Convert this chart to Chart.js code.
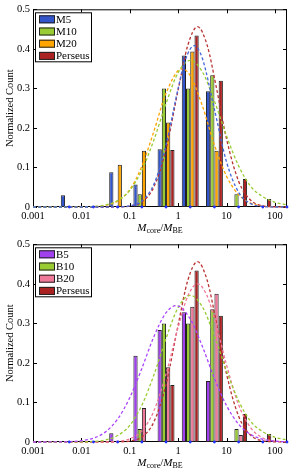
<!DOCTYPE html>
<html>
<head>
<meta charset="utf-8">
<script src="https://cdn.jsdelivr.net/npm/chart.js@4.4.0/dist/chart.umd.min.js"></script>
<style>
  body { margin: 0; background: #fff; }
  .panel { width: 294px; height: 235px; }
</style>
</head>
<body>
<div class="panel"><canvas id="topChart" width="294" height="235"></canvas></div>
<div class="panel"><canvas id="bottomChart" width="294" height="235"></canvas></div>
<script>
// bin centres in log10(Mcore/MBE)
var binCentres = [-2.25, -1.75, -1.25, -0.75, -0.25, 0.25, 0.75, 1.25, 1.75, 2.25];
var zeroMarks = [0, 0, 0, 0, 0, 0, 0, 0, 0, 0];

var xTicks = [-3, -2, -1, 0, 1, 2];
var xTickLabels = ['0.001', '0.01', '0.1', '1', '10', '100'];
var yTicks = [0, 0.1, 0.2, 0.3, 0.4, 0.5];

// normalized counts, top panel
var m5 = [0.03, 0, 0.088, 0.057, 0.146, 0.383, 0.293, 0, 0, 0];
var m10 = [0, 0, 0, 0.032, 0.30, 0.30, 0.333, 0.032, 0, 0];
var m20 = [0, 0, 0.107, 0.142, 0.214, 0.393, 0.142, 0, 0, 0];
var perseus = [0, 0, 0, 0, 0.144, 0.434, 0.319, 0.071, 0.02, 0];

// bottom panel
var b5 = [0, 0, 0.022, 0.218, 0.283, 0.328, 0.154, 0, 0, 0];
var b10 = [0, 0, 0, 0.033, 0.30, 0.30, 0.336, 0.033, 0, 0];
var b20 = [0, 0, 0, 0.086, 0.189, 0.342, 0.375, 0.018, 0, 0];

// fitted curves
var fitM5X = [-3, -1.5, -1.25, -1, -0.75, -0.5, -0.25, 0, 0.15, 0.33, 0.5, 0.75, 1.0, 1.25, 1.5, 1.75, 2.0, 2.25];
var fitM5 = [0, 0, 0.0003, 0.0027, 0.015, 0.058, 0.157, 0.300, 0.372, 0.408, 0.376, 0.247, 0.114, 0.037, 0.0084, 0.0013, 0, 0];

var fit10X = [-3, -2, -1.75, -1.5, -1.25, -1, -0.75, -0.5, -0.25, 0, 0.25, 0.5, 0.75, 1.0, 1.25, 1.5, 1.75, 2.0, 2.25];
var fit10 = [0, 0.0003, 0.0014, 0.0053, 0.0163, 0.042, 0.093, 0.170, 0.262, 0.340, 0.371, 0.342, 0.268, 0.180, 0.104, 0.052, 0.026, 0.012, 0.005];

var fitM20X = [-3, -2, -1.75, -1.5, -1.25, -1, -0.75, -0.5, -0.25, 0.08, 0.25, 0.5, 0.75, 1.0, 1.25, 1.5, 1.75, 2.0, 2.25];
var fitM20 = [0, 0.0002, 0.0009, 0.0041, 0.015, 0.044, 0.103, 0.192, 0.288, 0.350, 0.332, 0.256, 0.157, 0.078, 0.031, 0.0097, 0.0024, 0.0005, 0];

var fitPerX = [-3, -1.5, -1.25, -1, -0.75, -0.5, -0.25, 0, 0.2, 0.4, 0.6, 0.8, 1.0, 1.25, 1.5, 1.75, 2.0, 2.25];
var fitPer = [0, 0, 0.0003, 0.0023, 0.0127, 0.051, 0.146, 0.296, 0.409, 0.456, 0.409, 0.296, 0.172, 0.065, 0.017, 0.003, 0.0005, 0];

var fitB5X = [-3, -2.5, -2.25, -2, -1.75, -1.5, -1.25, -1, -0.75, -0.5, -0.25, -0.04, 0.25, 0.5, 0.75, 1.0, 1.25, 1.5, 1.75, 2.0, 2.25];
var fitB5 = [0, 0.0002, 0.0009, 0.0032, 0.0097, 0.0256, 0.058, 0.112, 0.186, 0.267, 0.327, 0.345, 0.311, 0.242, 0.161, 0.092, 0.045, 0.019, 0.0069, 0.0021, 0.0007];

var fitB20X = [-3, -1.5, -1.25, -1, -0.75, -0.5, -0.25, 0, 0.2, 0.4, 0.6, 0.8, 1.0, 1.25, 1.5, 1.75, 2.0, 2.25];
var fitB20 = [0, 0.0003, 0.0017, 0.0079, 0.028, 0.079, 0.172, 0.290, 0.369, 0.400, 0.369, 0.290, 0.195, 0.094, 0.036, 0.010, 0.0024, 0.0004];

var SERIF = "'Liberation Serif', 'Times New Roman', serif";
Chart.defaults.font.family = SERIF;
Chart.defaults.color = '#000';

function barSet(label, vals, color) {
  return {
    type: 'bar',
    label: label,
    order: 2,
    data: binCentres.map(function(x, i) { return { x: x, y: vals[i] || null }; }),
    backgroundColor: color,
    borderColor: '#222',
    borderWidth: 1,
    borderSkipped: false,
    categoryPercentage: 0.7,
    barPercentage: 1.0
  };
}

function fitSet(xs, ys, color) {
  return {
    type: 'line',
    order: 1,
    data: xs.map(function(x, i) { return { x: x, y: ys[i] }; }),
    borderColor: color,
    borderWidth: 1.3,
    borderDash: [3, 2.2],
    pointRadius: 0,
    fill: false,
    cubicInterpolationMode: 'monotone',
    clip: false
  };
}

function markSet() {
  return {
    type: 'line',
    order: 0,
    data: binCentres.map(function(x, i) { return { x: x, y: zeroMarks[i] }; }),
    showLine: false,
    pointRadius: 1.4,
    pointBorderWidth: 0,
    pointBackgroundColor: '#2233ff',
    clip: false
  };
}

var framePlugin = {
  id: 'frame',
  beforeDatasetsDraw: function(chart) {
    var a = chart.chartArea, ctx = chart.ctx;
    var xs = chart.scales.x, ys = chart.scales.y;
    ctx.save();
    ctx.strokeStyle = '#000';
    ctx.lineWidth = 1;
    ctx.beginPath();
    xs.ticks.forEach(function(t) {
      var px = Math.round(xs.getPixelForValue(t.value)) + 0.5;
      ctx.moveTo(px, a.bottom); ctx.lineTo(px, a.bottom - 4);
      ctx.moveTo(px, a.top); ctx.lineTo(px, a.top + 4);
    });
    ys.ticks.forEach(function(t) {
      var py = Math.round(ys.getPixelForValue(t.value)) + 0.5;
      ctx.moveTo(a.left, py); ctx.lineTo(a.left + 4, py);
      ctx.moveTo(a.right, py); ctx.lineTo(a.right - 4, py);
    });
    ctx.stroke();
    ctx.strokeRect(a.left + 0.5, a.top + 0.5, a.width - 1, a.height - 1);
    ctx.restore();
  }
};

var legendBoxPlugin = {
  id: 'legendBox',
  afterDraw: function(chart) {
    var a = chart.chartArea, ctx = chart.ctx;
    var bars = chart.data.datasets.filter(function(d) { return d.type === 'bar'; });
    var x0 = a.left + 2, y0 = a.top + 3;
    ctx.save();
    ctx.fillStyle = '#fff';
    ctx.fillRect(x0, y0, 56, 49);
    ctx.strokeStyle = '#000';
    ctx.lineWidth = 1;
    ctx.strokeRect(x0 + 0.5, y0 + 0.5, 56, 49);
    ctx.font = '11px ' + SERIF;
    ctx.textBaseline = 'middle';
    bars.forEach(function(d, i) {
      var cy = y0 + 7 + i * 12.2;
      ctx.fillStyle = d.backgroundColor;
      ctx.fillRect(x0 + 4, cy - 4, 16, 8);
      ctx.strokeStyle = '#222';
      ctx.strokeRect(x0 + 4.5, cy - 3.5, 15, 7);
      ctx.fillStyle = '#000';
      ctx.fillText(d.label, x0 + 21, cy + 0.5);
    });
    ctx.restore();
  }
};

var massLabelPlugin = {
  id: 'massLabel',
  afterDraw: function(chart) {
    var a = chart.chartArea, ctx = chart.ctx;
    var parts = [
      ['M', 'italic 11px ' + SERIF, 0],
      ['core', '8px ' + SERIF, 2],
      ['/', '11px ' + SERIF, 0],
      ['M', 'italic 11px ' + SERIF, 0],
      ['BE', '8px ' + SERIF, 2]
    ];
    ctx.save();
    var total = 0;
    parts.forEach(function(p) { ctx.font = p[1]; total += ctx.measureText(p[0]).width; });
    var x = (a.left + a.right) / 2 - total / 2;
    var y = 231;
    ctx.fillStyle = '#000';
    ctx.textBaseline = 'alphabetic';
    parts.forEach(function(p) {
      ctx.font = p[1];
      ctx.fillText(p[0], x, y + p[2]);
      x += ctx.measureText(p[0]).width;
    });
    ctx.restore();
  }
};

function makeChart(id, datasets) {
  return new Chart(document.getElementById(id), {
    type: 'bar',
    data: { datasets: datasets },
    plugins: [framePlugin, legendBoxPlugin, massLabelPlugin],
    options: {
      responsive: false,
      animation: false,
      events: [],
      layout: { padding: { left: 0, right: 7, top: 6, bottom: 0 } },
      plugins: { legend: { display: false }, tooltip: { enabled: false } },
      scales: {
        x: {
          type: 'linear',
          min: -3,
          max: 2.25,
          offset: false,
          grid: { display: false, drawTicks: false, offset: false },
          border: { display: false },
          afterBuildTicks: function(s) { s.ticks = xTicks.map(function(v) { return { value: v }; }); },
          afterFit: function(s) { s.height = 28; },
          ticks: {
            padding: 3,
            maxRotation: 0,
            autoSkip: false,
            font: { size: 10.5 },
            callback: function(v, i) { return xTickLabels[i]; }
          }
        },
        y: {
          min: 0,
          max: 0.5,
          grid: { display: false, drawTicks: false },
          border: { display: false },
          afterBuildTicks: function(s) { s.ticks = yTicks.map(function(v) { return { value: v }; }); },
          afterFit: function(s) { s.width = 33; },
          ticks: { padding: 3, font: { size: 10.5 } },
          title: { display: true, text: 'Normalized Count', font: { size: 10.5 }, padding: { top: 4, bottom: 0 } }
        }
      }
    }
  });
}

makeChart('topChart', [
  barSet('M5', m5, '#3355cc'),
  barSet('M10', m10, '#99cc33'),
  barSet('M20', m20, '#ffa500'),
  barSet('Perseus', perseus, '#aa2222'),
  fitSet(fitM5X, fitM5, '#4466dd'),
  fitSet(fit10X, fit10, '#99cc33'),
  fitSet(fitM20X, fitM20, '#ffa500'),
  fitSet(fitPerX, fitPer, '#bb3333'),
  markSet()
]);

makeChart('bottomChart', [
  barSet('B5', b5, '#a040ee'),
  barSet('B10', b10, '#99cc33'),
  barSet('B20', b20, '#f07898'),
  barSet('Perseus', perseus, '#aa2222'),
  fitSet(fitB5X, fitB5, '#aa44ff'),
  fitSet(fit10X, fit10, '#99cc33'),
  fitSet(fitB20X, fitB20, '#f07898'),
  fitSet(fitPerX, fitPer, '#bb3333'),
  markSet()
]);
</script>
</body>
</html>
